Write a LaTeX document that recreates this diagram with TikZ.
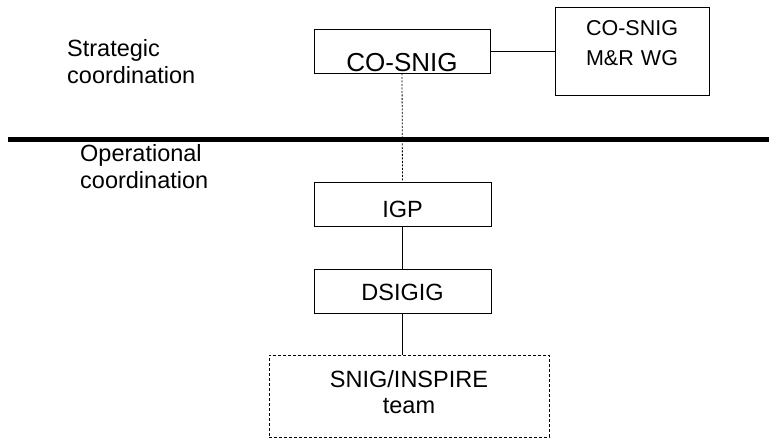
\documentclass[tikz,border=0pt]{standalone}
\usepackage{fontspec}
\setmainfont{Liberation Sans}
\tikzset{
  unitbox/.style={
    rectangle,
    draw,
    thick,
    inner sep=0pt,
    align=center,
    font=\fontsize{23.5}{27}\selectfont
  },
  teambox/.style={
    unitbox,
    dash pattern=on 3pt off 2pt
  },
  levellabel/.style={
    anchor=north west,
    inner sep=0pt,
    align=left,
    text height=18pt,
    font=\fontsize{23.5}{27}\selectfont
  }
}

\begin{document}
\begin{tikzpicture}[x=1pt,y=-1pt]
  \useasboundingbox (0,0) rectangle (769,439);

  % The boxes
  \node[unitbox, text width=176pt, text height=42pt, text depth=2pt,
    font=\fontsize{26}{30}\selectfont]
    (cosnig) at (402,51) {CO-SNIG};
  \node[unitbox, text width=154pt, text height=28pt, text depth=60pt,
    font=\fontsize{21.5}{30}\selectfont]
    (mrwg) at (632,51) {CO-SNIG\\M\&R WG};
  \node[unitbox, text width=177pt, text height=35pt, text depth=9pt]
    (igp) at (402.5,204) {IGP};
  \node[unitbox, text width=177pt, text height=31pt, text depth=13pt]
    (dsigig) at (402.5,291) {DSIGIG};
  \node[teambox, text width=280pt, text height=32pt, text depth=50pt,
    font=\fontsize{23.5}{26}\selectfont]
    (team) at (409,396) {SNIG/INSPIRE\\team};

  % The two levels
  \node[levellabel] (strategic) at (67,65) {Strategic\\coordination};
  \node[levellabel] (operational) at (80,170) {Operational\\coordination};
  \coordinate (sepwest) at (8,139.5);
  \coordinate (sepeast) at (769,139.5);
  \draw[line width=4.5pt] (sepwest) -- (sepeast);

  % The links
  \draw[thick] (cosnig.east) -- (mrwg.west);
  \draw[thick, dash pattern=on 2pt off 1.5pt] (cosnig.south) -- (igp.north);
  \draw[thick] (igp.south) -- (dsigig.north);
  \draw[thick] (dsigig.south) -- (dsigig.south |- team.north);
\end{tikzpicture}
\end{document}
